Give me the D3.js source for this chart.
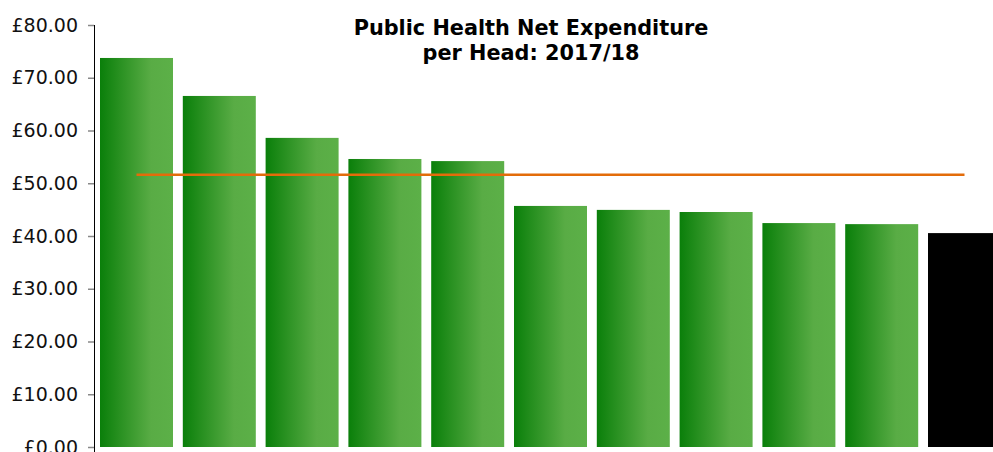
<!DOCTYPE html>
<html>
<head>
<meta charset="utf-8">
<script src="https://cdn.jsdelivr.net/npm/d3@7"></script>
<style>
  body { margin: 0; background: #fff; }
  svg { display: block; font-family: "DejaVu Sans", Verdana, sans-serif; }
</style>
</head>
<body>
<div id="chart"></div>
<script>
// bar values (£ per head), sorted high to low; last bar is the highlighted one
const areas = ["A1", "A2", "A3", "A4", "A5", "A6", "A7", "A8", "A9", "A10", "A11"];
const perHead = [73.75, 66.55, 58.6, 54.6, 54.2, 45.7, 44.95, 44.55, 42.45, 42.25, 40.55];
const highlighted = ["A11"];
const average = 51.6;
const yTicks = [0, 10, 20, 30, 40, 50, 60, 70, 80];
const titleLines = ["Public Health Net Expenditure", "per Head: 2017/18"];

const width = 993, height = 452;

const svg = d3
  .select("#chart")
  .append("svg")
  .attr("width", width)
  .attr("height", height);

// gradient for the normal bars
const grad = svg
  .append("defs")
  .append("linearGradient")
  .attr("id", "barGrad")
  .attr("x1", "0%")
  .attr("x2", "100%")
  .attr("y1", "0%")
  .attr("y2", "0%");
grad.append("stop").attr("offset", "0%").attr("stop-color", "#0a7f0a");
grad.append("stop").attr("offset", "70%").attr("stop-color", "#59ac45");
grad.append("stop").attr("offset", "100%").attr("stop-color", "#5cb048");

const x = d3
  .scaleBand()
  .domain(areas)
  .range([94, 1007])
  .paddingInner(0.1184)
  .paddingOuter(0.0725);

const y = d3.scaleLinear().domain([0, 80]).range([447, 25]);

// bars
svg
  .selectAll(".bar")
  .data(areas)
  .join("rect")
  .attr("class", "bar")
  .attr("x", (d) => x(d))
  .attr("y", (d, i) => y(perHead[i]))
  .attr("width", x.bandwidth())
  .attr("height", (d, i) => y(0) - y(perHead[i]))
  .style("fill", (d) => (highlighted.includes(d) ? "#000" : "url(#barGrad)"));

// average line, from centre of first bar to centre of last
svg
  .append("line")
  .attr("x1", x(areas[0]) + x.bandwidth() / 2)
  .attr("x2", x(areas[areas.length - 1]) + x.bandwidth() / 2)
  .attr("y1", y(average))
  .attr("y2", y(average))
  .style("stroke", "#e36c0a")
  .style("stroke-width", 2.5);

// y axis
const yAxis = svg
  .append("g")
  .attr("transform", "translate(94,0)")
  .call(
    d3
      .axisLeft(y)
      .tickValues(yTicks)
      .tickSize(6)
      .tickPadding(10)
      .tickFormat((d) => "£" + d.toFixed(2))
  );
yAxis.select(".domain").attr("d", `M0.5,${y(80)}V${y(0) + 5}`).style("stroke", "#000");
yAxis.selectAll(".tick line").style("stroke", "#888").style("stroke-width", 1.5);
yAxis
  .selectAll(".tick text")
  .style("font-size", "19px")
  .style("font-family", '"DejaVu Sans", Verdana, sans-serif')
  .style("fill", "#111");

// title
svg
  .append("text")
  .attr("x", 531)
  .attr("y", 35)
  .attr("text-anchor", "middle")
  .style("font-size", "20.8px")
  .style("font-weight", "bold")
  .selectAll("tspan")
  .data(titleLines)
  .join("tspan")
  .attr("x", 531)
  .attr("dy", (d, i) => (i === 0 ? 0 : 25))
  .text((d) => d);
</script>
</body>
</html>
